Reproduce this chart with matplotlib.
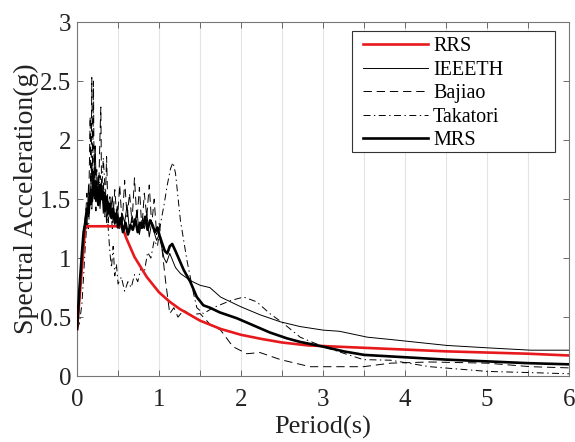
import matplotlib
matplotlib.use("Agg")
import matplotlib.pyplot as plt
from matplotlib.patches import Rectangle
from matplotlib.ticker import MultipleLocator, FormatStrFormatter

plt.rcParams["font.family"] = ["Liberation Serif", "DejaVu Serif"]
plt.rcParams["lines.scale_dashes"] = False

# 目标反应谱 RRS
t_rrs = [0, 0.1, 0.55, 0.6, 0.7, 0.85, 1.0, 1.13, 1.25, 1.5, 1.75, 2.0, 2.25, 2.5, 2.82,
         3.0, 3.5, 4.0, 4.5, 5.0, 5.5, 6.0]
a_rrs = [0.40, 1.27, 1.27, 1.17, 1.01, 0.84, 0.71, 0.63, 0.57, 0.47, 0.40, 0.35, 0.315, 0.285, 0.26,
         0.255, 0.24, 0.225, 0.21, 0.20, 0.19, 0.175]

# IEEETH
t_ieee = [0, 0.03, 0.06, 0.08, 0.10, 0.12, 0.14, 0.16, 0.18, 0.20, 0.22, 0.24, 0.26, 0.28, 0.30,
          0.32, 0.34, 0.36, 0.38, 0.40, 0.43, 0.46, 0.49, 0.52, 0.55, 0.58, 0.61, 0.64, 0.67, 0.70,
          0.73, 0.76, 0.79, 0.82, 0.85, 0.88, 0.91, 0.94, 0.97, 1.00, 1.03, 1.06, 1.09, 1.13, 1.20,
          1.26, 1.38, 1.50, 1.62, 1.75, 1.99, 2.23, 2.48, 2.72, 3.0, 3.2, 3.54, 3.83, 4.1, 4.51,
          5.0, 5.53, 6.0]
a_ieee = [0.40, 0.70, 1.00, 1.18, 1.35, 1.25, 1.62, 1.45, 1.80, 1.55, 1.95, 1.50, 1.70, 1.42, 1.62,
          1.38, 1.55, 1.30, 1.48, 1.35, 1.52, 1.28, 1.44, 1.25, 1.38, 1.30, 1.45, 1.22, 1.36, 1.28,
          1.40, 1.20, 1.32, 1.25, 1.38, 1.18, 1.30, 1.22, 1.15, 1.20, 1.10, 1.00, 0.96, 1.04, 0.92,
          0.87, 0.81, 0.77, 0.75, 0.67, 0.59, 0.52, 0.46, 0.42, 0.39, 0.38, 0.33, 0.31, 0.29, 0.26,
          0.24, 0.22, 0.22]

# Bajiao
t_bj = [0, 0.03, 0.06, 0.08, 0.10, 0.12, 0.14, 0.16, 0.17, 0.18, 0.19, 0.20, 0.21, 0.22, 0.23,
        0.24, 0.26, 0.28, 0.29, 0.30, 0.32, 0.34, 0.36, 0.38, 0.40, 0.43, 0.46, 0.49, 0.52, 0.55,
        0.58, 0.61, 0.64, 0.67, 0.70, 0.73, 0.76, 0.79, 0.82, 0.85, 0.88, 0.91, 0.94, 0.97, 1.00,
        1.04, 1.08, 1.13, 1.18, 1.23, 1.30, 1.38, 1.50, 1.62, 1.75, 1.90, 2.07, 2.23, 2.48, 2.84,
        3.2, 3.49, 3.82, 4.3, 5.0, 5.53, 6.0]
a_bj = [0.40, 0.62, 0.95, 1.15, 1.30, 1.55, 1.35, 2.20, 1.45, 2.53, 1.60, 2.50, 1.50, 1.95, 1.40,
        1.75, 1.45, 2.05, 2.28, 1.50, 1.65, 1.35, 1.86, 1.30, 1.52, 1.25, 1.58, 1.30, 1.62, 1.28,
        1.66, 1.35, 1.55, 1.30, 1.68, 1.32, 1.60, 1.25, 1.55, 1.35, 1.62, 1.28, 1.50, 1.20, 1.30,
        1.05, 0.80, 0.53, 0.58, 0.50, 0.56, 0.52, 0.53, 0.44, 0.39, 0.25, 0.19, 0.20, 0.14, 0.08,
        0.08, 0.08, 0.11, 0.12, 0.11, 0.08, 0.07]

# Takatori
t_tk = [0, 0.03, 0.06, 0.08, 0.10, 0.12, 0.14, 0.16, 0.18, 0.20, 0.22, 0.24, 0.26, 0.28, 0.30,
        0.32, 0.34, 0.36, 0.38, 0.40, 0.42, 0.44, 0.46, 0.48, 0.50, 0.54, 0.58, 0.62, 0.66, 0.70,
        0.74, 0.78, 0.82, 0.86, 0.90, 0.94, 0.98, 1.02, 1.06, 1.10, 1.14, 1.17, 1.20, 1.26, 1.34,
        1.42, 1.46, 1.54, 1.66, 1.87, 2.03, 2.19, 2.35, 2.51, 2.72, 3.0, 3.49, 3.82, 4.3, 5.0,
        5.53, 6.0]
a_tk = [0.40, 0.45, 0.62, 0.85, 1.10, 1.30, 1.25, 1.55, 1.40, 1.75, 1.50, 1.65, 1.45, 1.70, 1.55,
        1.85, 1.60, 1.45, 1.25, 1.05, 0.92, 1.10, 0.85, 0.95, 0.78, 0.84, 0.72, 0.80, 0.75, 0.86,
        0.80, 0.92, 0.88, 1.05, 1.00, 1.15, 1.10, 1.30, 1.45, 1.62, 1.76, 1.81, 1.72, 1.32, 0.98,
        0.70, 0.58, 0.53, 0.58, 0.64, 0.67, 0.63, 0.53, 0.45, 0.33, 0.25, 0.14, 0.135, 0.08, 0.04,
        0.03, 0.02]

# 合成波反应谱 MRS
t_mrs = [0, 0.03, 0.06, 0.08, 0.10, 0.12, 0.14, 0.16, 0.18, 0.20, 0.22, 0.24, 0.26, 0.28, 0.30,
         0.32, 0.34, 0.36, 0.38, 0.40, 0.42, 0.44, 0.46, 0.48, 0.50, 0.53, 0.56, 0.59, 0.62, 0.65,
         0.68, 0.71, 0.74, 0.77, 0.80, 0.83, 0.86, 0.89, 0.92, 0.95, 0.98, 1.01, 1.04, 1.07, 1.10,
         1.13, 1.16, 1.20, 1.25, 1.30, 1.38, 1.46, 1.54, 1.62, 1.74, 1.95, 2.15, 2.35, 2.56, 2.72,
         3.0, 3.25, 3.5, 4.0, 4.5, 5.0, 5.5, 6.0]
a_mrs = [0.40, 0.75, 1.05, 1.22, 1.30, 1.42, 1.38, 1.55, 1.48, 1.66, 1.52, 1.60, 1.45, 1.62, 1.50,
         1.56, 1.40, 1.52, 1.38, 1.46, 1.34, 1.42, 1.30, 1.38, 1.26, 1.34, 1.22, 1.30, 1.20, 1.28,
         1.24, 1.33, 1.22, 1.30, 1.26, 1.35, 1.24, 1.32, 1.28, 1.22, 1.26, 1.18, 1.12, 1.06, 1.04,
         1.10, 1.12, 1.06, 0.98, 0.90, 0.80, 0.67, 0.60, 0.58, 0.54, 0.49, 0.43, 0.37, 0.32, 0.29,
         0.25, 0.21, 0.18, 0.16, 0.14, 0.125, 0.11, 0.10]

fig = plt.figure(figsize=(5.75, 4.42), dpi=100)
ax = fig.add_axes([0.134, 0.149, 0.856, 0.801])

ax.plot(t_rrs, a_rrs, color="#e8191d", lw=1.9, label="RRS", zorder=3)
ax.plot(t_ieee, a_ieee, color="black", lw=0.7, label="IEEETH")
ax.plot(t_bj, a_bj, color="black", lw=0.7, dashes=(6, 3.5), label="Bajiao")
ax.plot(t_tk, a_tk, color="black", lw=0.7, dashes=(5, 2.5, 1, 2.5), label="Takatori")
ax.plot(t_mrs, a_mrs, color="black", lw=1.9, label="MRS", zorder=4)

ax.set_xlim(0, 6)
ax.set_ylim(0, 3)
ax.xaxis.set_major_locator(MultipleLocator(1))
ax.xaxis.set_minor_locator(MultipleLocator(0.5))
ax.yaxis.set_major_locator(MultipleLocator(0.5))
ax.yaxis.set_major_formatter(FormatStrFormatter("%g"))
ax.grid(True, which="both", axis="x", color="#e3e3e3", lw=0.8, zorder=0)
ax.set_axisbelow(True)
ax.tick_params(which="both", direction="in", top=True, right=True, length=4,
               width=0.6, color="#555555", labelsize=18, labelcolor="#222222")
ax.tick_params(axis="x", pad=9)
ax.tick_params(axis="y", pad=4)
for s in ax.spines.values():
    s.set_color("#777777")
    s.set_linewidth(0.8)

ax.set_xlabel("Period(s)", fontsize=19, color="#222222", labelpad=4)
ax.set_ylabel("Spectral Acceleration(g)", fontsize=20, color="#222222", labelpad=1)

# MATLAB 风格的宽图例框
box = Rectangle((0.559, 0.633), 0.4126, 0.342, transform=ax.transAxes,
                facecolor="white", edgecolor="#333333", lw=0.8, zorder=5)
ax.add_patch(box)
leg = ax.legend(loc="upper left", bbox_to_anchor=(0.581, 0.958), borderaxespad=0,
                borderpad=0, fontsize=14.5, handlelength=3.23, handletextpad=0.25,
                labelspacing=0.22, frameon=False)
leg.set_zorder(6)

fig.savefig("out.png", dpi=100)
